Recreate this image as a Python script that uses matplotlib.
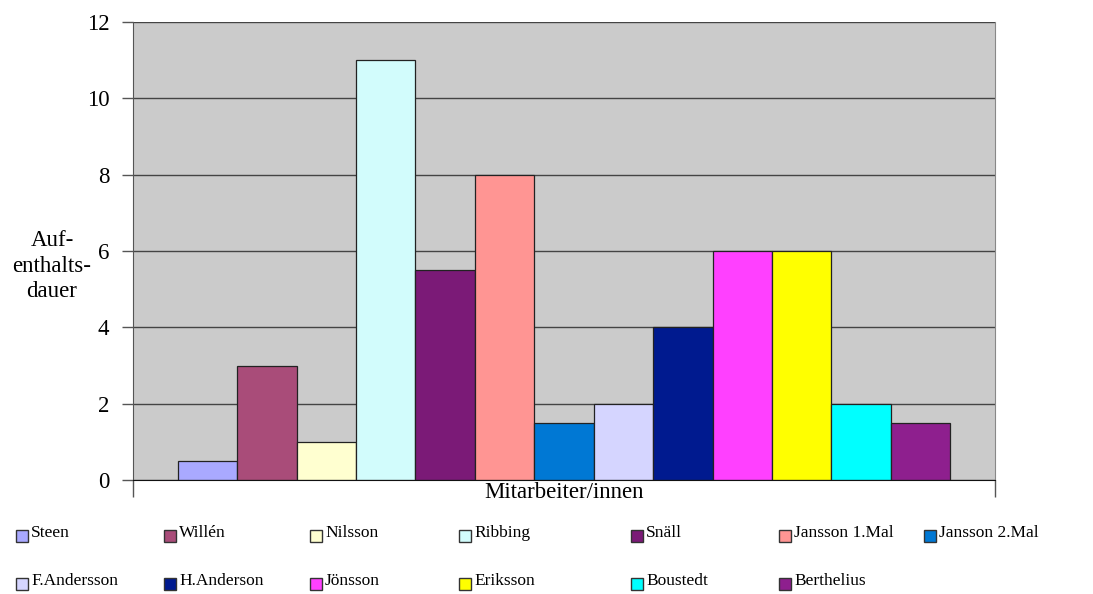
import numpy as np
import matplotlib
matplotlib.use('Agg')
from matplotlib import pyplot as plt
from matplotlib.patches import Rectangle

plt.rcParams['font.family'] = ['Liberation Serif', 'DejaVu Serif']

# data
names = ['Steen', 'Willén', 'Nilsson', 'Ribbing', 'Snäll', 'Jansson 1.Mal', 'Jansson 2.Mal',
         'F.Andersson', 'H.Anderson', 'Jönsson', 'Eriksson', 'Boustedt', 'Berthelius']
values = [0.5, 3, 1, 11, 5.5, 8, 1.5, 2, 4, 6, 6, 2, 1.5]
colors = ['#a9a9ff', '#a94c79', '#ffffd0', '#d2fcfc', '#7b1a77', '#ff9593', '#0078d4',
          '#d5d5ff', '#001a8f', '#ff40ff', '#ffff00', '#00ffff', '#8e1f8e']
yticks = [0, 2, 4, 6, 8, 10, 12]

W, H = 1093, 594
fig = plt.figure(figsize=(W/100, H/100), dpi=100)
ax = fig.add_axes([133/W, 1-480/H, (995-133)/W, (480-22)/H])
ax.set_facecolor('#cbcbcb')

x = np.arange(len(values))
ax.set_axisbelow(True)
ax.yaxis.grid(True, color='#444444', lw=1)
ax.bar(x, values, width=1.0, color=colors, edgecolor='#222222', lw=0.9)

ax.set_ylim(0, 12)
ax.set_yticks(yticks)
ax.set_xlim(-0.5-0.755, len(values)-0.5+0.755)
ax.set_xticks(ax.get_xlim())
ax.set_xticklabels([])
ax.tick_params(axis='x', direction='out', length=12, width=1, color='#555555')
ax.tick_params(axis='y', direction='out', length=8, width=1, color='#555555',
               labelsize=16.5, pad=9)

ax.spines['top'].set_visible(False)
ax.spines['left'].set_color('#555555')
ax.spines['right'].set_color('#888888')
ax.spines['bottom'].set_color('#111111')

ax.set_xlabel('Mitarbeiter/innen', fontsize=16.5)
ax.xaxis.set_label_coords(0.5, -0.004)
fig.text(52/W, 1-266/H, 'Auf-\nenthalts-\ndauer', ha='center', va='center',
         multialignment='center', fontsize=16.5, linespacing=1.3)

# legend, laid out row by row like the original
col_x = [16, 164, 310, 459, 631, 779, 924]
row_y = [536, 584]
for i, (n, c) in enumerate(zip(names, colors)):
    r, k = divmod(i, 7)
    sx, sy = col_x[k], row_y[r]
    fig.patches.append(Rectangle((sx/W, 1-(sy+6)/H), 12/W, 12/H, transform=fig.transFigure,
                                 facecolor=c, edgecolor='#333333', lw=1))
    fig.text((sx+15)/W, 1-(sy-3)/H, n, ha='left', va='center', fontsize=12.5)

fig.savefig('out.png', dpi=100)
